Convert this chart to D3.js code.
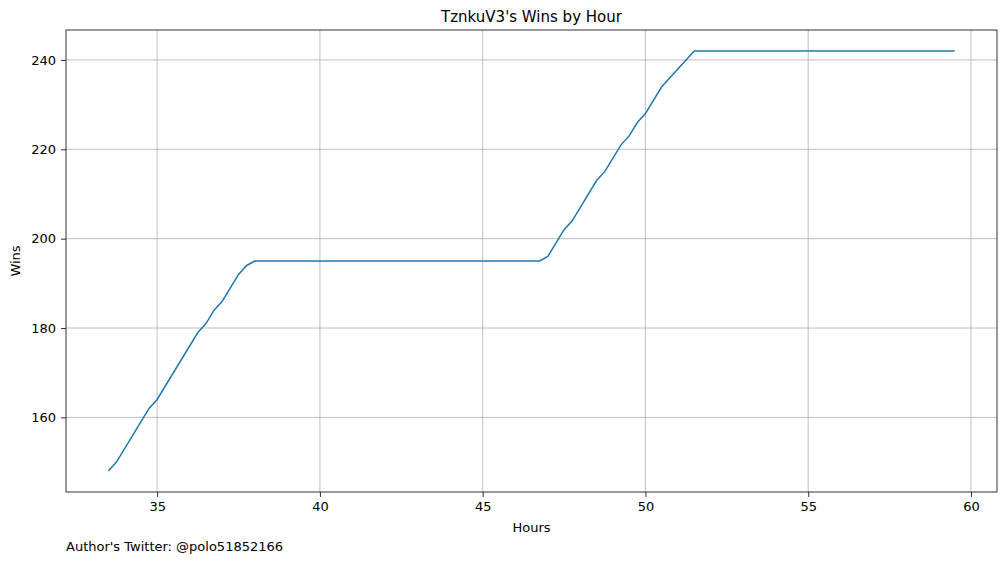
<!DOCTYPE html>
<html><head><meta charset="utf-8">
<script src="https://cdn.jsdelivr.net/npm/d3@7"></script>
<style>body{margin:0;background:#fff}text{font-family:"DejaVu Sans",sans-serif}</style>
</head><body><svg id="chart" width="1005" height="562"></svg>
<script>
var hours = [33.5, 33.75, 34.75, 35, 36.25, 36.5, 36.75, 37, 37.5, 37.75, 38, 46.75, 47, 47.25, 47.5, 47.75, 48.5, 48.75, 49.25, 49.5, 49.75, 50, 50.5, 51.5, 59.5];
var wins  = [148, 150, 162, 164, 179, 181, 184, 186, 192, 194, 195, 195, 196, 199, 202, 204, 213, 215, 221, 223, 226, 228, 234, 242, 242];
var xTicks = [35, 40, 45, 50, 55, 60];
var yTicks = [160, 180, 200, 220, 240];

var margin = {top: 30, right: 8, bottom: 70, left: 66};
var width = 1005 - margin.left - margin.right;
var height = 562 - margin.top - margin.bottom;

var x = d3.scaleLinear().domain([32.2, 60.8]).range([0, width]);
var y = d3.scaleLinear().domain([143.3, 246.7]).range([height, 0]);

var svg = d3.select("#chart");
var g = svg.append("g").attr("transform", "translate(" + margin.left + "," + margin.top + ")");

// grid
g.selectAll(".gx").data(xTicks).enter().append("line")
  .attr("x1", d => x(d)).attr("x2", d => x(d)).attr("y1", 0).attr("y2", height)
  .attr("stroke", "#b0b0b0").attr("stroke-width", 0.8);
g.selectAll(".gy").data(yTicks).enter().append("line")
  .attr("y1", d => y(d)).attr("y2", d => y(d)).attr("x1", 0).attr("x2", width)
  .attr("stroke", "#b0b0b0").attr("stroke-width", 0.8);

var xAxis = g.append("g").attr("transform", "translate(0," + height + ")")
  .call(d3.axisBottom(x).tickValues(xTicks).tickSize(5).tickPadding(5).tickFormat(d3.format("d")));
var yAxis = g.append("g")
  .call(d3.axisLeft(y).tickValues(yTicks).tickSize(5).tickPadding(5).tickFormat(d3.format("d")));
[xAxis, yAxis].forEach(function(a) {
  a.select(".domain").remove();
  a.selectAll("text").style("font-size", "13px").attr("fill", "#000").style("font-family", "DejaVu Sans");
  a.selectAll("line").attr("stroke", "#000").attr("stroke-width", 0.8);
});

g.append("rect").attr("width", width).attr("height", height)
  .attr("fill", "none").attr("stroke", "#000").attr("stroke-width", 0.8);

var line = d3.line().x((d, i) => x(hours[i])).y(d => y(d));
g.append("path").datum(wins).attr("d", line)
  .attr("fill", "none").attr("stroke", "#1f77b4").attr("stroke-width", 1.5);

svg.append("text").attr("x", margin.left + width / 2).attr("y", 22)
  .attr("text-anchor", "middle").style("font-size", "15px").text("TznkuV3's Wins by Hour");
svg.append("text").attr("x", margin.left + width / 2).attr("y", 532)
  .attr("text-anchor", "middle").style("font-size", "13px").text("Hours");
svg.append("text").attr("transform", "translate(20," + (margin.top + height / 2) + ") rotate(-90)")
  .attr("text-anchor", "middle").style("font-size", "13px").text("Wins");
svg.append("text").attr("x", 66).attr("y", 551)
  .style("font-size", "13px").text("Author's Twitter: @polo51852166");
</script></body></html>
